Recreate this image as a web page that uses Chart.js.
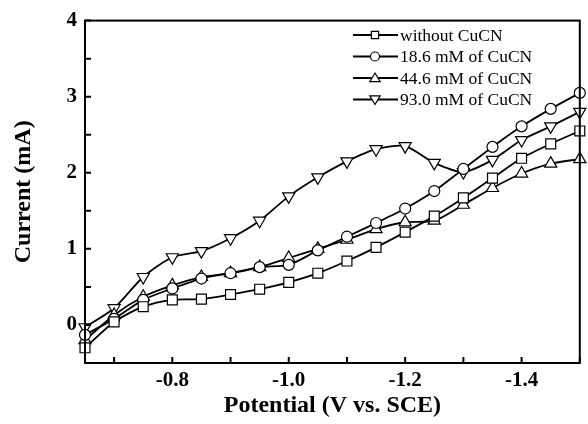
<!DOCTYPE html>
<html>
<head>
<meta charset="utf-8">
<script src="https://cdn.jsdelivr.net/npm/chart.js@4"></script>
<style>
  html, body { margin: 0; padding: 0; background: #fff; }
</style>
</head>
<body>
<canvas id="myChart" width="588" height="424"></canvas>
<script>
// potential in V vs. SCE, one marker every 50 mV
const potential = [-0.65, -0.70, -0.75, -0.80, -0.85, -0.90, -0.95, -1.00, -1.05,
                   -1.10, -1.15, -1.20, -1.25, -1.30, -1.35, -1.40, -1.45, -1.50];

const withoutCuCN = [-0.30, 0.04, 0.24, 0.33, 0.34, 0.40, 0.47, 0.56, 0.68,
                     0.84, 1.02, 1.22, 1.43, 1.67, 1.93, 2.19, 2.38, 2.55];
const cucn186 = [-0.13, 0.08, 0.33, 0.48, 0.61, 0.68, 0.76, 0.79, 0.98,
                 1.16, 1.34, 1.53, 1.76, 2.05, 2.34, 2.61, 2.84, 3.05];
const cucn446 = [-0.20, 0.13, 0.37, 0.52, 0.63, 0.68, 0.76, 0.88, 1.00,
                 1.12, 1.26, 1.35, 1.37, 1.58, 1.80, 1.99, 2.12, 2.18];
const cucn930 = [-0.03, 0.22, 0.63, 0.89, 0.97, 1.14, 1.37, 1.69, 1.94,
                 2.15, 2.31, 2.35, 2.13, 2.01, 2.17, 2.43, 2.61, 2.80];

const seriesLabels = ['without CuCN', '18.6 mM of CuCN', '44.6 mM of CuCN', '93.0 mM of CuCN'];

const xTicks = [-0.7, -0.8, -0.9, -1.0, -1.1, -1.2, -1.3, -1.4, -1.5];
const xTickLabels = ['', '-0.8', '', '-1.0', '', '-1.2', '', '-1.4', ''];
const yTicks = [-0.5, 0, 0.5, 1, 1.5, 2, 2.5, 3, 3.5, 4];
const yTickLabels = ['', '0', '', '1', '', '2', '', '3', '', '4'];

const serif = "'Liberation Serif', 'Times New Roman', serif";

function pts(values) {
    return potential.map((p, i) => ({ x: p, y: values[i] }));
}

function makeSet(label, values, style, radius, rotation) {
    return {
        label: label,
        data: pts(values),
        borderColor: '#000',
        borderWidth: 1.8,
        tension: 0.25,
        pointStyle: style,
        pointRotation: rotation,
        pointRadius: radius,
        pointBackgroundColor: '#fff',
        pointBorderColor: '#000',
        pointBorderWidth: 1.2,
        clip: false
    };
}

// little marker for the in-plot legend
function marker(ctx, style, rot, x, y, r) {
    ctx.beginPath();
    if (style === 'rect') {
        ctx.rect(x - r * 0.8, y - r * 0.8, r * 1.6, r * 1.6);
    } else if (style === 'circle') {
        ctx.arc(x, y, r, 0, Math.PI * 2);
    } else {
        const d = rot ? -1 : 1;
        ctx.moveTo(x, y - d * r * 1.1);
        ctx.lineTo(x + r * 1.15, y + d * r * 0.8);
        ctx.lineTo(x - r * 1.15, y + d * r * 0.8);
        ctx.closePath();
    }
    ctx.fillStyle = '#fff';
    ctx.fill();
    ctx.stroke();
}

const frame = {
    id: 'frame',
    afterDraw(chart) {
        const { ctx, chartArea: a, scales } = chart;
        ctx.save();
        ctx.strokeStyle = '#000';
        ctx.lineWidth = 2;
        ctx.strokeRect(a.left, a.top, a.right - a.left, a.bottom - a.top);

        // inward ticks
        ctx.lineWidth = 2;
        ctx.beginPath();
        scales.y.ticks.forEach(t => {
            const py = scales.y.getPixelForValue(t.value);
            ctx.moveTo(a.left, py);
            ctx.lineTo(a.left + 6, py);
        });
        scales.x.ticks.forEach(t => {
            const px = scales.x.getPixelForValue(t.value);
            ctx.moveTo(px, a.bottom);
            ctx.lineTo(px, a.bottom - 6);
        });
        ctx.stroke();

        // legend
        ctx.font = "17.5px " + serif;
        ctx.textBaseline = 'middle';
        chart.data.datasets.forEach((ds, i) => {
            const y = 35 + i * 21.5;
            ctx.lineWidth = 2;
            ctx.beginPath();
            ctx.moveTo(353, y);
            ctx.lineTo(398, y);
            ctx.stroke();
            ctx.lineWidth = 1.2;
            marker(ctx, ds.pointStyle, ds.pointRotation, 375, y, 4.5);
            ctx.fillStyle = '#000';
            ctx.fillText(ds.label, 400, y + 1);
        });
        ctx.restore();
    }
};

new Chart(document.getElementById('myChart'), {
    type: 'line',
    data: {
        datasets: [
            makeSet(seriesLabels[0], withoutCuCN, 'rect', 7, 0),
            makeSet(seriesLabels[1], cucn186, 'circle', 5.5, 0),
            makeSet(seriesLabels[2], cucn446, 'triangle', 7, 0),
            makeSet(seriesLabels[3], cucn930, 'triangle', 7, 180)
        ]
    },
    options: {
        responsive: false,
        animation: false,
        layout: { padding: { top: 20, right: 1, left: 0, bottom: 0 } },
        plugins: {
            legend: { display: false },
            tooltip: { enabled: false }
        },
        scales: {
            x: {
                type: 'linear',
                reverse: true,
                min: -1.5,
                max: -0.65,
                afterBuildTicks: s => { s.ticks = xTicks.map(v => ({ value: v })); },
                afterFit: s => { s.height = 61; },
                grid: { display: false, drawTicks: false },
                border: { display: false },
                ticks: {
                    autoSkip: false,
                    maxRotation: 0,
                    padding: 5,
                    color: '#000',
                    font: { family: serif, size: 21, weight: 'bold' },
                    callback: (v, i) => xTickLabels[i]
                },
                title: {
                    display: true,
                    text: 'Potential (V vs. SCE)',
                    color: '#000',
                    font: { family: serif, size: 24, weight: 'bold' },
                    padding: { top: 0, bottom: 4 }
                }
            },
            y: {
                min: -0.5,
                max: 4,
                afterBuildTicks: s => { s.ticks = yTicks.map(v => ({ value: v })); },
                afterFit: s => { s.width = 85; },
                grid: { display: false, drawTicks: false },
                border: { display: false },
                ticks: {
                    autoSkip: false,
                    padding: 8,
                    color: '#000',
                    font: { family: serif, size: 21, weight: 'bold' },
                    callback: (v, i) => yTickLabels[i]
                },
                title: {
                    display: true,
                    text: 'Current (mA)',
                    color: '#000',
                    font: { family: serif, size: 24, weight: 'bold' },
                    padding: { top: 9, bottom: 0 }
                }
            }
        }
    },
    plugins: [frame]
});
</script>
</body>
</html>
